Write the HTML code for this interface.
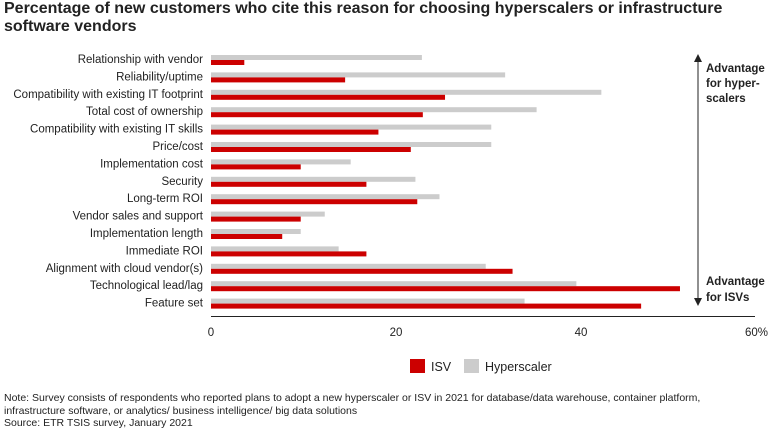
<!DOCTYPE html>
<html><head><meta charset="utf-8"><style>
body{margin:0;width:768px;height:432px;background:#fff;font-family:"Liberation Sans",Arial,sans-serif;overflow:hidden;position:relative}
.t{position:absolute;left:4px;top:0px;font-weight:bold;font-size:16px;line-height:18px;color:#222;width:764px;white-space:nowrap}
.note{position:absolute;left:4px;top:392px;font-size:10.5px;line-height:12.5px;color:#222}
</style></head><body>
<div class="t">Percentage of new customers who cite this reason for choosing hyperscalers or infrastructure<br>software vendors</div>
<svg id="c" width="768" height="432" style="position:absolute;left:0;top:0"></svg>
<div class="note">Note: Survey consists of respondents who reported plans to adopt a new hyperscaler or ISV in 2021 for database/data warehouse, container platform,<br>infrastructure software, or analytics/ business intelligence/ big data solutions<br>Source: ETR TSIS survey, January 2021</div>
<script>
const categories=["Relationship with vendor","Reliability/uptime","Compatibility with existing IT footprint","Total cost of ownership","Compatibility with existing IT skills","Price/cost","Implementation cost","Security","Long-term ROI","Vendor sales and support","Implementation length","Immediate ROI","Alignment with cloud vendor(s)","Technological lead/lag","Feature set"];
const hyperscaler=[22.8,31.8,42.2,35.2,30.3,30.3,15.1,22.1,24.7,12.3,9.7,13.8,29.7,39.5,33.9];
const isv=[3.6,14.5,25.3,22.9,18.1,21.6,9.7,16.8,22.3,9.7,7.7,16.8,32.6,50.7,46.5];
const ticks=[0,20,40,60];
const tickLabels=["0","20","40","60%"];
const NS="http://www.w3.org/2000/svg",svg=document.getElementById("c");
const x=v=>211+v*9.25, rowY=i=>55+i*17.4;
function mk(t,a,p){const e=document.createElementNS(NS,t);for(const k in a)e.setAttribute(k,a[k]);(p||svg).appendChild(e);return e;}
categories.forEach((c,i)=>{
 const y=rowY(i);
 const l=mk("text",{x:203,y:y+8,"text-anchor":"end","font-size":"11.5",fill:"#222"});l.textContent=c;
 
 
 const g=mk("rect",{x:x(0),y:y,width:x(hyperscaler[i])-x(0),height:5,fill:"#cccccc"});
 
 
 const r=mk("rect",{x:x(0),y:y+5,width:x(isv[i])-x(0),height:5,fill:"#cc0000"});
 
 
});
const ax=mk("line",{x1:211,x2:755,y1:316.5,y2:316.5,stroke:"#222","stroke-width":1});


ticks.forEach((t,i)=>{
 const e=mk("text",{x:i==3?768:x(t),y:336,"text-anchor":i==3?"end":"middle","font-size":"11.5",fill:"#222"});e.textContent=tickLabels[i];
 
 
});
const ar=mk("g",{});


mk("line",{x1:698,x2:698,y1:58,y2:302,stroke:"#222","stroke-width":1},ar);
mk("path",{d:"M694,62 L698,54 L702,62 Z",fill:"#222"},ar);
mk("path",{d:"M694,298 L698,306 L702,298 Z",fill:"#222"},ar);
[["Advantage",72],["for hyper-",87],["scalers",102]].forEach(([s,yy])=>{const e=mk("text",{x:706,y:yy,"font-size":"11.5","font-weight":"bold",fill:"#222"});e.textContent=s;
 
 });
[["Advantage",285],["for ISVs",301]].forEach(([s,yy])=>{const e=mk("text",{x:706,y:yy,"font-size":"11.5","font-weight":"bold",fill:"#222"});e.textContent=s;
 
 });
const lg=mk("g",{});


mk("rect",{x:410,y:359,width:15,height:14,fill:"#cc0000"},lg);
let e=mk("text",{x:431,y:371,"font-size":"12.5",fill:"#222"},lg);e.textContent="ISV";
mk("rect",{x:464,y:359,width:15,height:14,fill:"#cccccc"},lg);
e=mk("text",{x:485,y:371,"font-size":"12.5",fill:"#222"},lg);e.textContent="Hyperscaler";
</script>
</body></html>
